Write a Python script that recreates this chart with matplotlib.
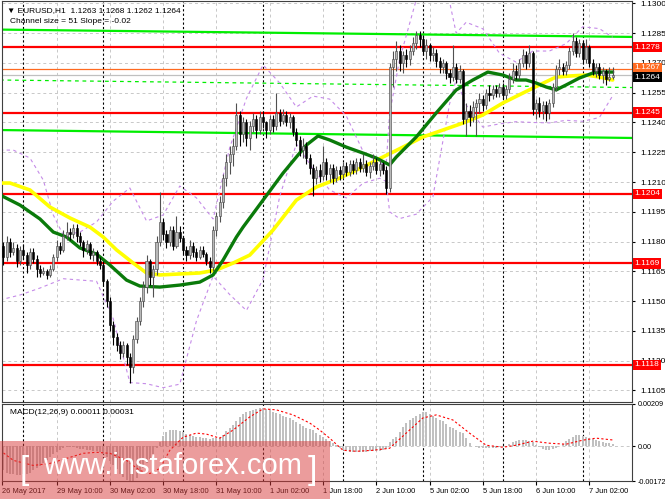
import matplotlib
matplotlib.use('Agg')
import matplotlib.pyplot as plt
from matplotlib.patches import Rectangle
from matplotlib.transforms import blended_transform_factory

# ---- data (H1 bars, index 0 = 26 May 17:00) ----
closes = [
    1.1178, 1.1172, 1.1180, 1.1175, 1.1177, 1.1170, 1.1176, 1.1173, 1.1168, 1.1175,
    1.1171, 1.1166, 1.1164, 1.1165, 1.1163, 1.1166, 1.1172, 1.1178, 1.1176, 1.1183,
    1.1185, 1.1184, 1.1187, 1.1183, 1.1180, 1.1176, 1.1179, 1.1173, 1.1175, 1.1170,
    1.1168, 1.1160, 1.1150, 1.1138, 1.1132, 1.1128, 1.1124, 1.1128, 1.1122, 1.1117,
    1.1131, 1.1140, 1.1150, 1.1157, 1.1170, 1.1162, 1.1166, 1.1180, 1.1190, 1.1184,
    1.1180, 1.1186, 1.1178, 1.1185, 1.1182, 1.1176, 1.1173, 1.1178, 1.1175, 1.1172,
    1.1176, 1.1174, 1.1170, 1.1167, 1.1186, 1.1193, 1.1200, 1.1212, 1.1220, 1.1224,
    1.1228, 1.1244, 1.1234, 1.1240, 1.1232, 1.1238, 1.1242, 1.1236, 1.1243, 1.1240,
    1.1236, 1.1242, 1.1238, 1.1245, 1.1241, 1.1244, 1.1240, 1.1243, 1.1235, 1.1231,
    1.1226, 1.1228, 1.1222, 1.1217, 1.1212, 1.1216, 1.1213, 1.1220, 1.1214, 1.1217,
    1.1212, 1.1216, 1.1214, 1.1218, 1.1215, 1.1219, 1.1216, 1.1220, 1.1217, 1.1219,
    1.1215, 1.1218, 1.1220, 1.1216, 1.1219, 1.1216, 1.1207, 1.1268, 1.1272, 1.1276,
    1.1270, 1.1274, 1.1272, 1.1276, 1.1280, 1.1284, 1.1282, 1.1276, 1.1279, 1.1274,
    1.1275, 1.1271, 1.1268, 1.1270, 1.1265, 1.1263, 1.1268, 1.1262, 1.1266, 1.1242,
    1.1246, 1.1243, 1.1248, 1.1250, 1.1252, 1.1249, 1.1255, 1.1254, 1.1257, 1.1255,
    1.1258, 1.1254, 1.1257, 1.1262, 1.1266, 1.1264, 1.1270, 1.1274, 1.1270, 1.1275,
    1.1247, 1.1250, 1.1246, 1.1249, 1.1245, 1.1250, 1.1258, 1.1267, 1.1268, 1.1266,
    1.1269, 1.1276, 1.1281, 1.1275, 1.1280, 1.1272, 1.1278, 1.1270, 1.1266, 1.1268,
    1.1264, 1.1266, 1.1262, 1.1263, 1.1264,
]
highs = [
    1.1186, 1.1180, 1.1183, 1.1182, 1.1180, 1.1179, 1.1178, 1.1179, 1.1175, 1.1177,
    1.1177, 1.1173, 1.1168, 1.1167, 1.1166, 1.1168, 1.1174, 1.1181, 1.1180, 1.1186,
    1.1190, 1.1187, 1.1189, 1.1189, 1.1185, 1.1181, 1.1181, 1.1180, 1.1177, 1.1176,
    1.1172, 1.1170, 1.1161, 1.1152, 1.1140, 1.1134, 1.1130, 1.1130, 1.1129, 1.1124,
    1.1133, 1.1142, 1.1152, 1.1160, 1.1173, 1.1171, 1.1168, 1.1183, 1.1205, 1.1192,
    1.1186, 1.1188, 1.1188, 1.1193, 1.1188, 1.1183, 1.1178, 1.1181, 1.1180, 1.1177,
    1.1178, 1.1178, 1.1175, 1.1172, 1.1188, 1.1195, 1.1203, 1.1214, 1.1224, 1.1228,
    1.1232, 1.1250, 1.1246, 1.1243, 1.1242, 1.1241, 1.1245, 1.1244, 1.1246, 1.1246,
    1.1241, 1.1244, 1.1244, 1.1255, 1.1247, 1.1247, 1.1246, 1.1245, 1.1244, 1.1237,
    1.1233, 1.1232, 1.1230, 1.1224, 1.1219, 1.1218, 1.1219, 1.1228, 1.1222, 1.1219,
    1.1219, 1.1218, 1.1218, 1.1220, 1.1220, 1.1221, 1.1221, 1.1222, 1.1222, 1.1224,
    1.1221, 1.1220, 1.1224, 1.1222, 1.1221, 1.1220, 1.1218, 1.1270, 1.1276, 1.1281,
    1.1279, 1.1276, 1.1277, 1.1279, 1.1283, 1.1286, 1.1286, 1.1284, 1.1282, 1.1280,
    1.1278, 1.1277, 1.1273, 1.1272, 1.1271, 1.1267, 1.1279, 1.1270, 1.1269, 1.1267,
    1.1250, 1.1249, 1.1251, 1.1252, 1.1255, 1.1254, 1.1257, 1.1259, 1.1259, 1.1259,
    1.1260, 1.1260, 1.1259, 1.1265, 1.1270, 1.1269, 1.1272, 1.1277, 1.1276, 1.1279,
    1.1276, 1.1252, 1.1253, 1.1251, 1.1251, 1.1252, 1.1260, 1.1269, 1.1272, 1.1270,
    1.1271, 1.1278, 1.1285, 1.1283, 1.1282, 1.1281, 1.1282, 1.1279, 1.1272, 1.1270,
    1.1270, 1.1268, 1.1267, 1.1268, 1.1268,
]
lows = [
    1.1168, 1.1168, 1.1170, 1.1172, 1.1173, 1.1167, 1.1168, 1.1171, 1.1164, 1.1166,
    1.1169, 1.1162, 1.1162, 1.1163, 1.1161, 1.1162, 1.1165, 1.1170, 1.1174, 1.1175,
    1.1181, 1.1181, 1.1182, 1.1180, 1.1178, 1.1172, 1.1174, 1.1171, 1.1170, 1.1168,
    1.1166, 1.1158, 1.1147, 1.1135, 1.1128, 1.1125, 1.1121, 1.1122, 1.1118, 1.1109,
    1.1114, 1.1129, 1.1138, 1.1147, 1.1154, 1.1158, 1.1152, 1.1163, 1.1178, 1.1181,
    1.1177, 1.1178, 1.1176, 1.1177, 1.1180, 1.1174, 1.1170, 1.1171, 1.1172, 1.1170,
    1.1171, 1.1172, 1.1168, 1.1164, 1.1165, 1.1183, 1.1190, 1.1197, 1.1208, 1.1214,
    1.1218, 1.1226, 1.1228, 1.1230, 1.1228, 1.1226, 1.1235, 1.1232, 1.1234, 1.1237,
    1.1232, 1.1234, 1.1235, 1.1236, 1.1238, 1.1239, 1.1238, 1.1237, 1.1233, 1.1228,
    1.1223, 1.1222, 1.1219, 1.1214, 1.1203, 1.1209, 1.1210, 1.1211, 1.1211, 1.1210,
    1.1209, 1.1210, 1.1211, 1.1212, 1.1213, 1.1213, 1.1214, 1.1214, 1.1215, 1.1215,
    1.1213, 1.1212, 1.1216, 1.1214, 1.1213, 1.1214, 1.1204, 1.1205, 1.1258, 1.1266,
    1.1266, 1.1265, 1.1268, 1.1269, 1.1274, 1.1277, 1.1278, 1.1274, 1.1272, 1.1271,
    1.1271, 1.1268, 1.1265, 1.1265, 1.1262, 1.1260, 1.1261, 1.1260, 1.1260, 1.1239,
    1.1233, 1.1238, 1.1240, 1.1233, 1.1245, 1.1246, 1.1247, 1.1251, 1.1252, 1.1253,
    1.1253, 1.1252, 1.1252, 1.1255, 1.1260, 1.1262, 1.1262, 1.1268, 1.1267, 1.1268,
    1.1244, 1.1242, 1.1243, 1.1242, 1.1241, 1.1242, 1.1248, 1.1256, 1.1264, 1.1264,
    1.1264, 1.1267, 1.1274, 1.1273, 1.1273, 1.1270, 1.1270, 1.1268, 1.1264, 1.1263,
    1.1262, 1.1260, 1.1259, 1.1261, 1.1262,
]
first_open = 1.1182

# moving averages (bar index, price)
ma_fast_idx = [0, 6, 12, 16, 20, 24, 29, 33, 38, 42, 48, 54, 60, 64, 67, 71, 73, 79, 85, 89,
               92, 95.5, 99, 104, 109, 113, 117, 119, 125, 131, 137, 142, 146.5, 151, 155,
               158, 161, 164, 167, 170, 174, 178, 181, 184]
ma_fast = [1.12035, 1.11984, 1.11914, 1.11848, 1.11823, 1.11768, 1.11737, 1.11682, 1.11606,
           1.11576, 1.11571, 1.11581, 1.11596, 1.11632, 1.11707, 1.11823, 1.11873, 1.12009,
           1.12145, 1.12226, 1.12286, 1.12332, 1.12312, 1.12276, 1.12246, 1.12221, 1.12186,
           1.12226, 1.12327, 1.12448, 1.12564, 1.12614, 1.12654, 1.12639, 1.12614, 1.12614,
           1.12599, 1.12579, 1.12564, 1.12589, 1.12624, 1.12649, 1.12654, 1.12654]
ma_slow_idx = [0, 3, 9, 15, 21, 27, 31, 35, 40, 44, 48, 54, 60, 65, 70, 75, 82, 89, 95, 102,
               109, 115, 121, 127, 133, 139, 145, 151, 157, 162, 167, 171, 176, 180, 184]
ma_slow = [1.12095, 1.12095, 1.12060, 1.11974, 1.11919, 1.11873, 1.11823, 1.11758, 1.11692,
           1.11642, 1.11632, 1.11637, 1.11642, 1.11657, 1.11692, 1.11732, 1.11858, 1.12009,
           1.12075, 1.12120, 1.12176, 1.12226, 1.12276, 1.12327, 1.12362, 1.12397, 1.12438,
           1.12498, 1.12548, 1.12589, 1.12629, 1.12634, 1.12639, 1.12629, 1.12614]

# bollinger bands (bar index, price)
bb_up_idx = [0, 4, 9, 13, 16, 19, 24, 29, 34, 39, 44, 49, 54, 59, 64, 69, 74, 79, 84, 89,
             94, 99, 104, 109, 114, 116, 117, 120, 125, 130, 135, 137, 140, 145, 150, 155,
             160, 165, 170, 175, 180, 184]
bb_up = [1.12261, 1.12261, 1.12221, 1.12110, 1.11934, 1.11833, 1.11848, 1.11899, 1.12004,
         1.12070, 1.11904, 1.11934, 1.12080, 1.12020, 1.11914, 1.12274, 1.12521, 1.12690,
         1.12599, 1.12478, 1.12533, 1.12518, 1.12433, 1.12256, 1.12191, 1.12196, 1.12443,
         1.12717, 1.13018, 1.13130, 1.13009, 1.12850, 1.12905, 1.12872, 1.12749, 1.12704,
         1.12760, 1.12760, 1.12797, 1.12882, 1.12873, 1.12829]
bb_lo_idx = [0, 6, 12, 19, 29, 34, 39, 44, 49, 54, 59, 64, 69, 74, 79, 84, 89, 94, 99, 104,
             109, 114, 116, 117, 120, 125, 130, 135, 137, 140, 145, 150, 155, 160, 165, 170,
             175, 180, 184]
bb_lo = [1.11506, 1.11531, 1.11566, 1.11613, 1.11600, 1.11412, 1.11090, 1.11084, 1.11064,
         1.11082, 1.11401, 1.11626, 1.11533, 1.11453, 1.11610, 1.12028, 1.12292, 1.12166,
         1.12060, 1.12020, 1.12094, 1.12119, 1.12103, 1.11950, 1.11916, 1.11938, 1.12025,
         1.12493, 1.12617, 1.12488, 1.12377, 1.12393, 1.12404, 1.12400, 1.12398, 1.12411,
         1.12406, 1.12425, 1.12535]

# regression channel ends (bar index, price)
chan_idx = [0, 190]
chan_upper = [1.12868, 1.12831]
chan_mid = [1.12614, 1.12576]
chan_lower = [1.12362, 1.12322]

levels = [1.1278, 1.1245, 1.1204, 1.1169, 1.1118]
ask_price = 1.1267
bid_price = 1.1264

# MACD main line (1e-5 units, one per bar) and signal points
macd = [
    -110, -120, -130, -135, -138, -140, -140, -138, -135, -130,
    -120, -110, -100, -85, -70, -55, -40, -28, -18, -10,
    -5, -5, -5, -8, -12, -15, -18, -20, -22, -25,
    -30, -40, -55, -75, -95, -115, -135, -150, -165, -175,
    -170, -155, -135, -110, -85, -65, -40, -10, 20, 50,
    70, 80, 82, 80, 75, 68, 60, 55, 50, 48,
    45, 42, 40, 38, 40, 42, 45, 55, 75, 90,
    105, 125, 145, 160, 170, 175, 180, 185, 190, 188,
    185, 178, 170, 165, 158, 150, 145, 138, 130, 120,
    110, 100, 92, 85, 78, 65, 55, 45, 35, 28,
    18, 5, -10, -20, -25, -28, -30, -30, -30, -28,
    -28, -26, -25, -24, -22, -20, -15, 20, 35, 45,
    70, 95, 115, 130, 140, 150, 160, 168, 168, 160,
    150, 140, 130, 125, 110, 95, 88, 80, 72, 65,
    40, 15, 0, -5, -8, -10, -10, -10, -8, -8,
    -6, -4, -2, 10, 20, 25, 30, 32, 30, 28,
    20, 5, -5, -12, -18, -20, -15, -8, 0, 10,
    25, 38, 48, 55, 55, 52, 48, 42, 38, 32,
    26, 22, 18, 14, 11,
]
signal_idx = [0, 4, 10, 15, 20, 25, 29, 33, 38, 42, 45, 48, 51, 55, 59, 62, 66, 70, 75, 79,
              83, 88, 93, 96, 99, 103, 107, 112, 117, 122, 127, 131, 136, 141, 146, 151,
              155, 160, 165, 170, 175, 179, 184]
signal = [-20, -70, -95, -85, -60, -35, -30, -35, -70, -120, -135, -110, -20, 45, 65, 60, 40,
          80, 145, 185, 180, 155, 115, 80, 40, -20, -25, -20, -10, 65, 140, 155, 130, 65, 5,
          -5, 5, 25, 15, 10, 30, 40, 31]

price_ticks = [1.1300, 1.1285, 1.1270, 1.1255, 1.1240, 1.1225, 1.1210, 1.1195, 1.1180,
               1.1165, 1.1150, 1.1135, 1.1120, 1.1105]
time_labels = ['26 May 2017', '29 May 10:00', '30 May 02:00', '30 May 18:00', '31 May 10:00',
               '1 Jun 02:00', '1 Jun 18:00', '2 Jun 10:00', '5 Jun 02:00', '5 Jun 18:00',
               '6 Jun 10:00', '7 Jun 02:00']
time_idx = [0.6, 17, 33, 49, 65, 81, 97, 113, 129, 145, 161, 177]
day_starts = [7, 31, 55, 79, 103, 127, 151, 175]

FONT = ['Liberation Sans', 'DejaVu Sans']
plt.rcParams['font.family'] = FONT

W, H = 665, 499
fig = plt.figure(figsize=(W / 100, H / 100), dpi=100)
ax = fig.add_axes([2 / W, 1 - 402 / H, 630 / W, 401 / H])
axm = fig.add_axes([2 / W, 1 - 481 / H, 630 / W, 77 / H])

XMIN, XMAX = 0.6, 189.8
GRID = dict(color='#c8c8c8', linestyle=(0, (3, 3)), linewidth=0.7, zorder=0)

for a in (ax, axm):
    a.set_xlim(XMIN, XMAX)
    for t in time_idx[1:]:
        a.axvline(t, **GRID)
    for d in day_starts:
        a.axvline(d, color='black', linestyle=(0, (2, 2)), linewidth=0.8, zorder=0.5)
    for s in a.spines.values():
        s.set_color('#404040')
        s.set_linewidth(0.8)

# ---- price panel ----
ax.set_ylim(1.10992, 1.13012)
for p in price_ticks:
    ax.axhline(p, **GRID)
ax.yaxis.tick_right()
ax.set_yticks(price_ticks)
ax.set_yticklabels(['%.4f' % p for p in price_ticks])
ax.tick_params(axis='y', labelsize=6, length=2, pad=4, colors='black')
ax.set_xticks([])

ax.plot(chan_idx, chan_upper, color='#00ee00', linewidth=1.6, zorder=2)
ax.plot(chan_idx, chan_lower, color='#00ee00', linewidth=1.6, zorder=2)
ax.plot(chan_idx, chan_mid, color='#00ee00', linewidth=0.9, linestyle=(0, (3, 3)), zorder=2)

for lv in levels:
    ax.axhline(lv, color='#ff0000', linewidth=1.6, zorder=2)
ax.axhline(ask_price, color='#ff6a20', linewidth=0.9, zorder=2)
ax.axhline(bid_price, color='#c0c0c0', linewidth=0.9, zorder=2)

BB = dict(color='#c58be8', linewidth=0.8, linestyle=(0, (3, 3)), zorder=2.5)
ax.plot(bb_up_idx, bb_up, **BB)
ax.plot(bb_lo_idx, bb_lo, **BB)

ax.plot(ma_slow_idx, ma_slow, color='#ffff00', linewidth=2.6, zorder=3, solid_capstyle='round')
ax.plot(ma_fast_idx, ma_fast, color='#0a7a0a', linewidth=2.4, zorder=3, solid_capstyle='round')

opens = [first_open] + closes[:-1]
xs = list(range(len(closes)))
for i, o, h, l, c in zip(xs, opens, highs, lows, closes):
    up = c >= o
    ax.vlines(i, l, h, color='#505050' if up else 'black', linewidth=0.8, zorder=4)
    body_lo, body_hi = min(o, c), max(o, c)
    ax.bar(i, max(body_hi - body_lo, 0.00004), bottom=body_lo, width=0.62,
           color='#b8b8b8' if up else 'black', edgecolor='#404040' if up else 'black',
           linewidth=0.4, zorder=5)

tr = blended_transform_factory(ax.transAxes, ax.transData)
for lv in levels:
    ax.text(1.004, lv, '%.4f' % lv, transform=tr, fontsize=6, color='white', va='center',
            ha='left', zorder=10, clip_on=False,
            bbox=dict(boxstyle='square,pad=0.2', fc='#ff0000', ec='none'))
ax.text(1.004, ask_price + 0.00005, '%.4f' % ask_price, transform=tr, fontsize=6, color='white',
        va='center', ha='left', zorder=10, clip_on=False,
        bbox=dict(boxstyle='square,pad=0.2', fc='#ff6a20', ec='none'))
ax.text(1.004, bid_price - 0.00012, '%.4f' % bid_price, transform=tr, fontsize=6, color='white',
        va='center', ha='left', zorder=11, clip_on=False,
        bbox=dict(boxstyle='square,pad=0.2', fc='black', ec='none'))

ax.text(0.008, 0.985, '\u25bc EURUSD,H1  1.1263 1.1268 1.1262 1.1264', transform=ax.transAxes,
        fontsize=6, va='top', ha='left', zorder=12)
ax.text(0.012, 0.957, 'Channel size = 51 Slope = -0.02', transform=ax.transAxes,
        fontsize=6, va='top', ha='left', zorder=12)

# ---- MACD panel ----
axm.set_ylim(-0.00172, 0.00209)
axm.axhline(0, **GRID)
axm.bar(xs, [v / 1e5 for v in macd], width=0.6, color='#c0c0c0', zorder=2)
axm.plot(signal_idx, [v / 1e5 for v in signal], color='#ff0000', linewidth=0.8,
         linestyle=(0, (2, 2)), zorder=3)
axm.yaxis.tick_right()
axm.set_yticks([0.00209, 0.0, -0.00172])
axm.set_yticklabels(['0.00209', '0.00', '-0.00172'])
axm.tick_params(axis='y', labelsize=5.2, length=2, pad=2)
axm.set_xticks(time_idx)
axm.set_xticklabels(time_labels, ha='left')
axm.tick_params(axis='x', labelsize=5.4, length=3, pad=2)
axm.text(0.012, 0.93, 'MACD(12,26,9) 0.00011 0.00031', transform=axm.transAxes,
         fontsize=6, va='top', ha='left', zorder=12)

# ---- watermark ----
fig.patches.append(Rectangle((0, 0), 330 / W, 58 / H, transform=fig.transFigure,
                             facecolor='#d83a3a', alpha=0.5, edgecolor='none', zorder=20))
wm = dict(color='white', ha='center', va='center', zorder=21, family=['Liberation Sans', 'DejaVu Sans'])
fig.text(172 / W, 33 / H, 'www.instaforex.com', fontsize=21, **wm)
fig.text(24 / W, 28 / H, '[', fontsize=24, **wm)
fig.text(312 / W, 28 / H, ']', fontsize=24, **wm)

fig.savefig('out.png', dpi=100, facecolor='white')
